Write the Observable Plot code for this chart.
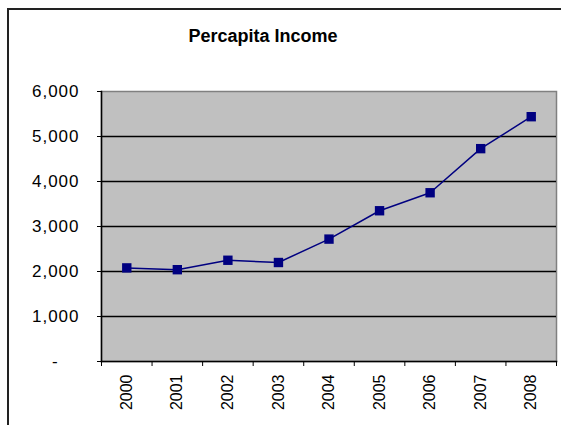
<!DOCTYPE html>
<html>
<head>
<meta charset="utf-8">
<script src="https://cdn.jsdelivr.net/npm/d3@7"></script>
<script src="https://cdn.jsdelivr.net/npm/@observablehq/plot@0.6"></script>
<style>
  html, body { margin: 0; padding: 0; background: #fff; }
  body { width: 561px; height: 425px; overflow: hidden; position: relative; font-family: "Liberation Sans", Arial, sans-serif; }
  #frame { position: absolute; left: 7px; top: 8px; width: 700px; height: 600px; border-left: 2px solid #222; border-top: 2px solid #222; }
  #title { position: absolute; left: 0; top: 0; width: 526px; height: 55px; box-sizing: border-box; padding-top: 26px; text-align: center; font-weight: bold; font-size: 18px; line-height: 20px; letter-spacing: 0; color: #000; }
  #chart { position: absolute; left: 0; top: 55px; }
  #chart g[aria-label="y-axis tick label"] text { letter-spacing: 1px; }
</style>
</head>
<body>
<div id="frame"></div>
<div id="title">Percapita Income</div>
<div id="chart"></div>
<script>
const years = [2000, 2001, 2002, 2003, 2004, 2005, 2006, 2007, 2008];
const income = [2080, 2040, 2250, 2200, 2720, 3350, 3750, 4730, 5440];
const yTicks = [0, 1000, 2000, 3000, 4000, 5000, 6000];

const data = years.map((year, i) => ({year, income: income[i]}));
const boundaries = years.map(y => y - 0.5).concat([years[years.length - 1] + 0.5]);
const fmt = d3.format(",");

const chart = Plot.plot({
  width: 561,
  height: 370,
  marginTop: 36,
  marginBottom: 64,
  marginLeft: 101,
  marginRight: 5,
  style: {fontSize: "17px", fontFamily: "'Liberation Sans', Arial, sans-serif", background: "transparent", color: "#000"},
  x: {type: "linear", domain: [boundaries[0], boundaries[boundaries.length - 1]], label: null},
  y: {domain: [0, 6000], label: null},
  marks: [
    Plot.frame({fill: "#c0c0c0", stroke: "#808080", strokeWidth: 1.5}),
    Plot.ruleY(yTicks.filter(d => d > 0 && d < 6000), {stroke: "#000", strokeWidth: 1.6}),
    Plot.axisY(yTicks, {tickSize: 4, tickPadding: 18, tickFormat: d => d === 0 ? "-\u2007\u2007" : fmt(d)}),
    Plot.axisX(boundaries, {tickSize: 5, tickFormat: () => ""}),
    Plot.axisX(years, {tickSize: 0, tickRotate: -90, tickPadding: 13, tickFormat: d => String(d), fontSize: 16}),
    Plot.frame({anchor: "left", stroke: "#000", strokeWidth: 1.5}),
    Plot.frame({anchor: "bottom", stroke: "#000", strokeWidth: 1.5}),
    Plot.line(data, {x: "year", y: "income", stroke: "#000080", strokeWidth: 1.5}),
    Plot.dot(data, {x: "year", y: "income", symbol: "square", r: 5.3, fill: "#000080", stroke: "none"})
  ]
});
document.getElementById("chart").appendChild(chart);
</script>
</body>
</html>
